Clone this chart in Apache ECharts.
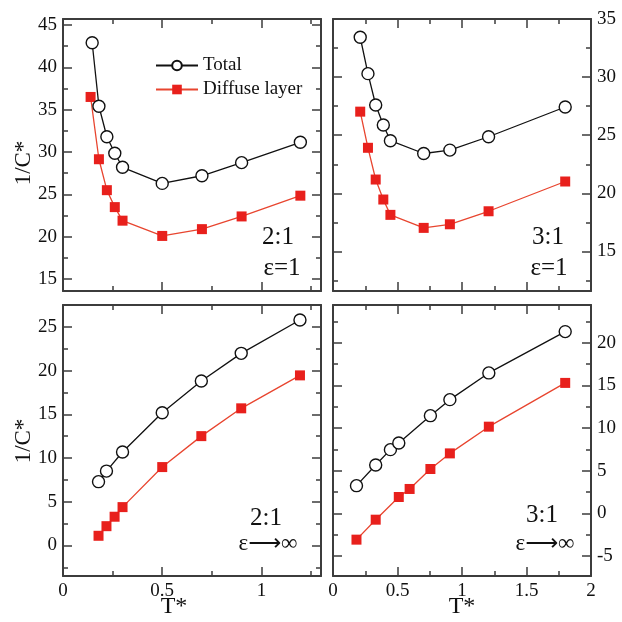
<!DOCTYPE html>
<html>
<head>
<meta charset="utf-8">
<script src="https://cdn.jsdelivr.net/npm/echarts@6/dist/echarts.min.js"></script>
<style>
html,body{margin:0;padding:0;background:#fff;}
#chart{width:622px;height:622px;}
</style>
</head>
<body>
<div id="chart"></div>
<script>
// ---------- DATA ----------
// Top-left panel: 2:1, eps=1
const T_tl_total = [0.147, 0.181, 0.221, 0.261, 0.30, 0.50, 0.70, 0.90, 1.196];
const C_tl_total = [42.9, 35.4, 31.8, 29.85, 28.2, 26.3, 27.2, 28.75, 31.15];
const T_tl_diff  = [0.139, 0.181, 0.221, 0.261, 0.30, 0.50, 0.70, 0.90, 1.196];
const C_tl_diff  = [36.5, 29.15, 25.5, 23.5, 21.9, 20.1, 20.9, 22.4, 24.85];

// Top-right panel: 3:1, eps=1
const T_tr_total = [0.211, 0.271, 0.331, 0.39, 0.445, 0.703, 0.906, 1.206, 1.80];
const C_tr_total = [33.43, 30.3, 27.6, 25.88, 24.53, 23.43, 23.72, 24.87, 27.43];
const T_tr_diff  = [0.211, 0.271, 0.331, 0.39, 0.445, 0.703, 0.906, 1.206, 1.80];
const C_tr_diff  = [27.03, 23.92, 21.19, 19.47, 18.15, 17.03, 17.34, 18.46, 21.02];

// Bottom-left panel: 2:1, eps->inf
const T_bl_total = [0.179, 0.219, 0.30, 0.50, 0.697, 0.898, 1.194];
const C_bl_total = [7.29, 8.5, 10.68, 15.18, 18.8, 21.97, 25.78];
const T_bl_diff  = [0.179, 0.219, 0.26, 0.30, 0.50, 0.697, 0.898, 1.194];
const C_bl_diff  = [1.1, 2.2, 3.28, 4.38, 8.96, 12.5, 15.68, 19.45];

// Bottom-right panel: 3:1, eps->inf
const T_br_total = [0.182, 0.331, 0.445, 0.51, 0.755, 0.906, 1.208, 1.80];
const C_br_total = [3.25, 5.67, 7.47, 8.25, 11.45, 13.33, 16.46, 21.3];
const T_br_diff  = [0.182, 0.331, 0.51, 0.594, 0.755, 0.906, 1.208, 1.80];
const C_br_diff  = [-3.08, -0.74, 1.92, 2.86, 5.2, 7.03, 10.16, 15.29];

// Tick values
const xMajorLeft  = [0, 0.5, 1];
const xMinorLeft  = [0.25, 0.75, 1.25];
const xMajorRight = [0, 0.5, 1, 1.5, 2];
const xMinorRight = [0.25, 0.75, 1.25, 1.75];
const yMajorTL = [15, 20, 25, 30, 35, 40, 45];
const yMinorTL = [17.5, 22.5, 27.5, 32.5, 37.5, 42.5];
const yMajorTR = [15, 20, 25, 30, 35];
const yMinorTR = [12.5, 17.5, 22.5, 27.5, 32.5];
const yMajorBL = [0, 5, 10, 15, 20, 25];
const yMinorBL = [-2.5, 2.5, 7.5, 12.5, 17.5, 22.5];
const yMajorBR = [-5, 0, 5, 10, 15, 20];
const yMinorBR = [-2.5, 2.5, 7.5, 12.5, 17.5, 22.5];

const seriesNames = ['Total', 'Diffuse layer'];
const panelLabels = [['2:1', 'ε=1'], ['3:1', 'ε=1'], ['2:1', 'ε⟶∞'], ['3:1', 'ε⟶∞']];
const yAxisTitle = '1/C*';
const xAxisTitle = 'T*';

// ---------- BUILD ----------
const FONT = '"Liberation Serif", "DejaVu Serif", serif';
const FRAME = '#3c3c3c';

const grids = [
  {left: 63, top: 19, width: 258, height: 272},
  {left: 333, top: 19, width: 258, height: 272},
  {left: 63, top: 305, width: 258, height: 271},
  {left: 333, top: 305, width: 258, height: 271}
].map(g => Object.assign({outerBoundsMode: 'none', containLabel: false}, g));

function axisSet(gi, min, max, major, minor, sides, labelSide) {
  const out = [];
  sides.forEach(pos => {
    const base = {
      type: 'value', gridIndex: gi, min: min, max: max, position: pos,
      splitLine: {show: false}
    };
    out.push(Object.assign({}, base, {
      axisLine: {show: true, onZero: false, lineStyle: {color: FRAME, width: 2}},
      axisTick: {show: true, inside: true, length: 9, customValues: major,
                 lineStyle: {color: FRAME, width: 1.5}},
      axisLabel: {show: pos === labelSide, customValues: major, margin: 6,
                  color: '#111', fontFamily: FONT, fontSize: 19}
    }));
    out.push(Object.assign({}, base, {
      axisLine: {show: false, onZero: false},
      axisTick: {show: true, inside: true, length: 5, customValues: minor,
                 lineStyle: {color: FRAME, width: 1.5}},
      axisLabel: {show: false}
    }));
  });
  return out;
}

const xAxes = [].concat(
  axisSet(0, 0, 1.3, xMajorLeft, xMinorLeft, ['bottom', 'top'], 'none'),
  axisSet(1, 0, 2, xMajorRight, xMinorRight, ['bottom', 'top'], 'none'),
  axisSet(2, 0, 1.3, xMajorLeft, xMinorLeft, ['bottom', 'top'], 'bottom'),
  axisSet(3, 0, 2, xMajorRight, xMinorRight, ['bottom', 'top'], 'bottom')
);
const yAxes = [].concat(
  axisSet(0, 13.6, 45.7, yMajorTL, yMinorTL, ['left', 'right'], 'left'),
  axisSet(1, 11.6, 35.0, yMajorTR, yMinorTR, ['left', 'right'], 'right'),
  axisSet(2, -3.5, 27.5, yMajorBL, yMinorBL, ['left', 'right'], 'left'),
  axisSet(3, -7.34, 24.42, yMajorBR, yMinorBR, ['left', 'right'], 'right')
);

function zip(a, b) { return a.map((v, i) => [v, b[i]]); }

const panels = [
  [T_tl_total, C_tl_total, T_tl_diff, C_tl_diff],
  [T_tr_total, C_tr_total, T_tr_diff, C_tr_diff],
  [T_bl_total, C_bl_total, T_bl_diff, C_bl_diff],
  [T_br_total, C_br_total, T_br_diff, C_br_diff]
];

const series = [];
panels.forEach((p, gi) => {
  series.push({
    type: 'line', name: seriesNames[1], xAxisIndex: gi * 4, yAxisIndex: gi * 4,
    data: zip(p[2], p[3]), symbol: 'rect', symbolSize: 10,
    itemStyle: {color: '#e8201c', borderWidth: 0},
    lineStyle: {color: '#e8452f', width: 1.3}, z: 3
  });
  series.push({
    type: 'line', name: seriesNames[0], xAxisIndex: gi * 4, yAxisIndex: gi * 4,
    data: zip(p[0], p[1]), symbol: 'circle', symbolSize: 12, showAllSymbol: true,
    itemStyle: {color: '#ffffff', borderColor: '#111', borderWidth: 1.4},
    lineStyle: {color: '#111', width: 1.3}, z: 4
  });
});

const labelPos = [
  [[278, 237], [282, 268]],
  [[548, 237], [549, 268]],
  [[266, 518], [268, 544]],
  [[542, 515], [545, 544]]
];
const graphics = [];
labelPos.forEach((lp, i) => {
  graphics.push({type: 'text', x: lp[0][0], y: lp[0][1], z: 10,
    style: {text: panelLabels[i][0], font: '25px ' + FONT, fill: '#111', textAlign: 'center', textVerticalAlign: 'middle'}});
  graphics.push({type: 'text', x: lp[1][0], y: lp[1][1], z: 10,
    style: {text: panelLabels[i][1], font: (i < 2 ? '25px ' : '23px ') + '"Liberation Serif", "DejaVu Sans", serif', fill: '#111', textAlign: 'center', textVerticalAlign: 'middle'}});
});
[163, 441].forEach(cy => {
  graphics.push({type: 'text', x: 24, y: cy, rotation: Math.PI / 2, z: 10,
    style: {text: yAxisTitle, font: '23px ' + FONT, fill: '#111', textAlign: 'center', textVerticalAlign: 'middle'}});
});
[174, 462].forEach(cx => {
  graphics.push({type: 'text', x: cx, y: 607, z: 10,
    style: {text: xAxisTitle, font: '24px ' + FONT, fill: '#111', textAlign: 'center', textVerticalAlign: 'middle'}});
});

const chart = echarts.init(document.getElementById('chart'), null, {renderer: 'canvas'});
chart.setOption({
  animation: false,
  backgroundColor: '#fff',
  grid: grids,
  xAxis: xAxes,
  yAxis: yAxes,
  legend: {
    data: seriesNames, orient: 'vertical', left: 150, top: 51,
    itemWidth: 42, itemHeight: 12, itemGap: 5, selectedMode: false,
    textStyle: {fontFamily: FONT, fontSize: 19, color: '#111'}
  },
  series: series,
  graphic: graphics
});
</script>
</body>
</html>
